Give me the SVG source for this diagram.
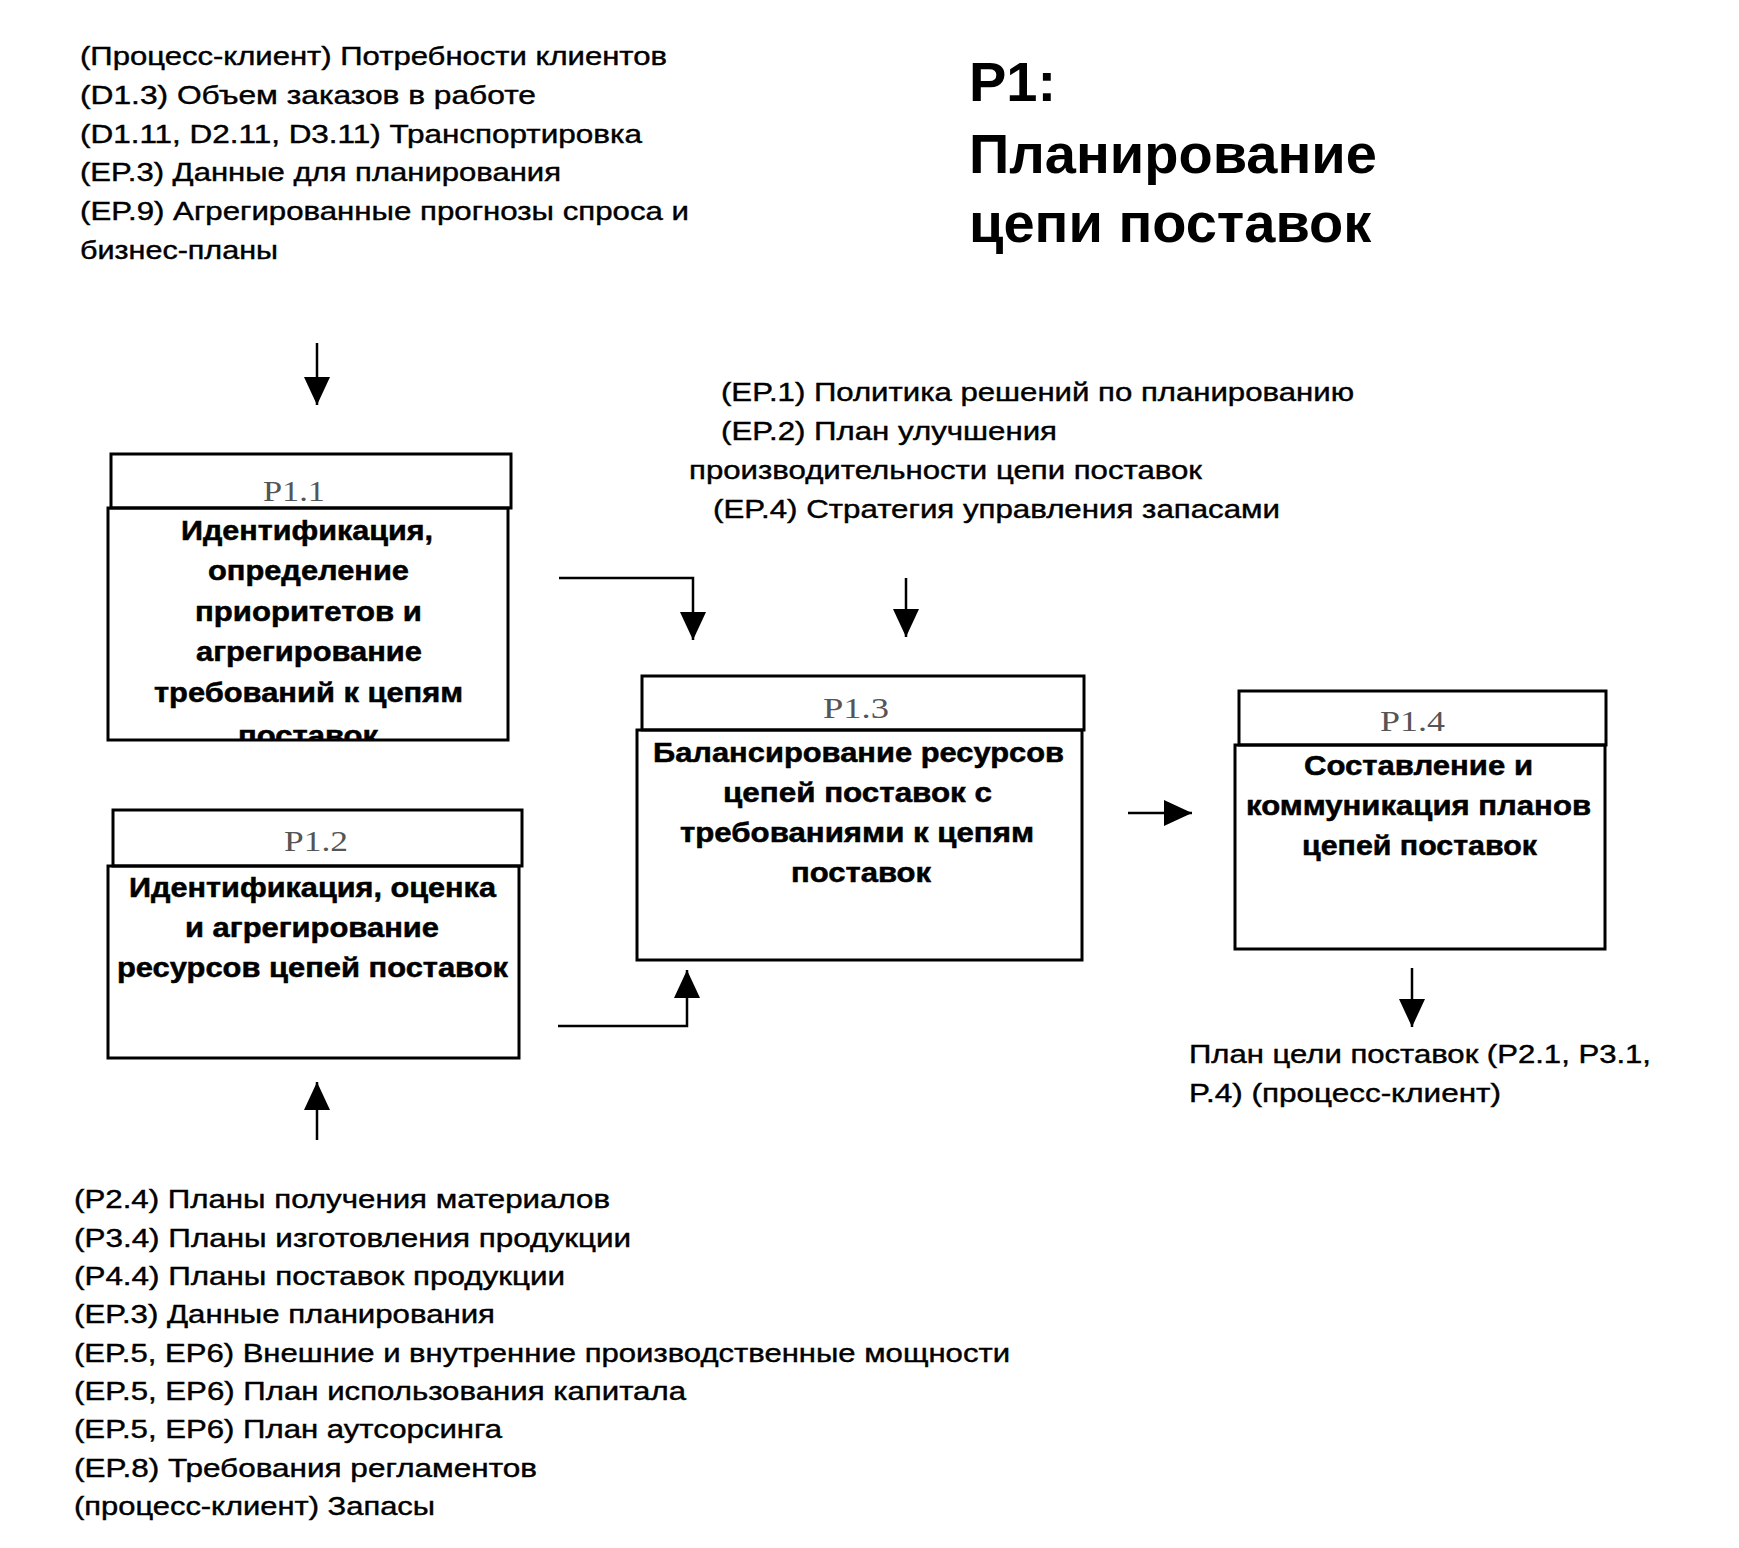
<svg xmlns="http://www.w3.org/2000/svg" width="1739" height="1548" viewBox="0 0 1739 1548">
<style>
.t{font-family:"Liberation Sans",Arial,sans-serif;font-size:25px;fill:#000;stroke:#000;stroke-width:0.4}
.b{font-family:"Liberation Sans",Arial,sans-serif;font-size:27px;font-weight:bold;fill:#000;stroke:#000;stroke-width:0.5}
.ttl{font-family:"Liberation Sans",Arial,sans-serif;font-size:56px;font-weight:bold;fill:#000}
.lbl{font-family:"Liberation Serif","Times New Roman",serif;font-size:30px;fill:#555}
.box{fill:none;stroke:#000;stroke-width:3}
.conn{fill:none;stroke:#000;stroke-width:2.5}
</style>
<defs>
<marker id="arr" viewBox="0 0 28 28" refX="28" refY="14" markerWidth="28" markerHeight="28" markerUnits="userSpaceOnUse" orient="auto">
<path d="M0,1 L28,14 L0,27 z" fill="#000"/>
</marker>
<clipPath id="clip11"><rect x="108" y="508" width="400" height="232"/></clipPath>
</defs>
<rect width="1739" height="1548" fill="#fff"/>

<g id="title">
<text class="ttl" x="969" y="101">P1:</text>
<text class="ttl" x="969" y="173">Планирование</text>
<text class="ttl" x="969" y="242">цепи поставок</text>
</g>

<g id="inputs-top">
<text class="t" x="80" y="65" textLength="587" lengthAdjust="spacingAndGlyphs">(Процесс-клиент) Потребности клиентов</text>
<text class="t" x="80" y="104" textLength="456" lengthAdjust="spacingAndGlyphs">(D1.3)  Объем заказов в работе</text>
<text class="t" x="80" y="143" textLength="562" lengthAdjust="spacingAndGlyphs">(D1.11, D2.11, D3.11) Транспортировка</text>
<text class="t" x="80" y="181" textLength="481" lengthAdjust="spacingAndGlyphs">(EP.3) Данные для планирования</text>
<text class="t" x="80" y="220" textLength="609" lengthAdjust="spacingAndGlyphs">(EP.9) Агрегированные прогнозы спроса и</text>
<text class="t" x="80" y="259" textLength="198" lengthAdjust="spacingAndGlyphs">бизнес-планы</text>
</g>

<g id="inputs-ep">
<text class="t" x="721" y="401" textLength="633" lengthAdjust="spacingAndGlyphs">(EP.1) Политика решений по планированию</text>
<text class="t" x="721" y="440" textLength="336" lengthAdjust="spacingAndGlyphs">(EP.2) План улучшения</text>
<text class="t" x="689" y="479" textLength="513" lengthAdjust="spacingAndGlyphs">производительности цепи поставок</text>
<text class="t" x="713" y="518" textLength="567" lengthAdjust="spacingAndGlyphs">(EP.4) Стратегия управления запасами</text>
</g>

<g id="p1-1">
<rect class="box" x="111" y="454" width="400" height="54"/>
<rect class="box" x="108" y="508" width="400" height="232"/>
<text class="lbl" x="263" y="501" textLength="62" lengthAdjust="spacingAndGlyphs">P1.1</text>
<text class="b" x="181" y="540" textLength="252" lengthAdjust="spacingAndGlyphs">Идентификация,</text>
<text class="b" x="208" y="580" textLength="201" lengthAdjust="spacingAndGlyphs">определение</text>
<text class="b" x="195" y="621" textLength="227" lengthAdjust="spacingAndGlyphs">приоритетов и</text>
<text class="b" x="196" y="661" textLength="226" lengthAdjust="spacingAndGlyphs">агрегирование</text>
<text class="b" x="154" y="702" textLength="309" lengthAdjust="spacingAndGlyphs">требований к цепям</text>
<text class="b" x="238" y="745" textLength="140" lengthAdjust="spacingAndGlyphs" clip-path="url(#clip11)">поставок</text>
</g>

<g id="p1-2">
<rect class="box" x="113" y="810" width="409" height="56"/>
<rect class="box" x="108" y="866" width="411" height="192"/>
<text class="lbl" x="284" y="851" textLength="64" lengthAdjust="spacingAndGlyphs">P1.2</text>
<text class="b" x="129" y="897" textLength="367" lengthAdjust="spacingAndGlyphs">Идентификация, оценка</text>
<text class="b" x="185" y="937" textLength="254" lengthAdjust="spacingAndGlyphs">и агрегирование</text>
<text class="b" x="117" y="977" textLength="391" lengthAdjust="spacingAndGlyphs">ресурсов цепей поставок</text>
</g>

<g id="p1-3">
<rect class="box" x="642" y="676" width="442" height="54"/>
<rect class="box" x="637" y="730" width="445" height="230"/>
<text class="lbl" x="823" y="718" textLength="66" lengthAdjust="spacingAndGlyphs">P1.3</text>
<text class="b" x="653" y="762" textLength="411" lengthAdjust="spacingAndGlyphs">Балансирование ресурсов</text>
<text class="b" x="723" y="802" textLength="269" lengthAdjust="spacingAndGlyphs">цепей поставок с</text>
<text class="b" x="680" y="842" textLength="354" lengthAdjust="spacingAndGlyphs">требованиями к цепям</text>
<text class="b" x="791" y="882" textLength="140" lengthAdjust="spacingAndGlyphs">поставок</text>
</g>

<g id="p1-4">
<rect class="box" x="1239" y="691" width="367" height="54"/>
<rect class="box" x="1235" y="745" width="370" height="204"/>
<text class="lbl" x="1380" y="731" textLength="65" lengthAdjust="spacingAndGlyphs">P1.4</text>
<text class="b" x="1304" y="775" textLength="229" lengthAdjust="spacingAndGlyphs">Составление и</text>
<text class="b" x="1246" y="815" textLength="345" lengthAdjust="spacingAndGlyphs">коммуникация планов</text>
<text class="b" x="1302" y="855" textLength="235" lengthAdjust="spacingAndGlyphs">цепей поставок</text>
</g>

<g id="output">
<text class="t" x="1189" y="1063" textLength="462" lengthAdjust="spacingAndGlyphs">План цели поставок (P2.1, P3.1,</text>
<text class="t" x="1189" y="1102" textLength="312" lengthAdjust="spacingAndGlyphs">P.4) (процесс-клиент)</text>
</g>

<g id="inputs-bottom">
<text class="t" x="74" y="1208" textLength="536" lengthAdjust="spacingAndGlyphs">(P2.4)  Планы получения материалов</text>
<text class="t" x="74" y="1247" textLength="557" lengthAdjust="spacingAndGlyphs">(P3.4)  Планы изготовления продукции</text>
<text class="t" x="74" y="1285" textLength="491" lengthAdjust="spacingAndGlyphs">(P4.4)  Планы поставок продукции</text>
<text class="t" x="74" y="1323" textLength="421" lengthAdjust="spacingAndGlyphs">(EP.3) Данные планирования</text>
<text class="t" x="74" y="1362" textLength="936" lengthAdjust="spacingAndGlyphs">(EP.5, EP6) Внешние и внутренние производственные мощности</text>
<text class="t" x="74" y="1400" textLength="612" lengthAdjust="spacingAndGlyphs">(EP.5, EP6) План использования капитала</text>
<text class="t" x="74" y="1438" textLength="428" lengthAdjust="spacingAndGlyphs">(EP.5, EP6) План аутсорсинга</text>
<text class="t" x="74" y="1477" textLength="463" lengthAdjust="spacingAndGlyphs">(EP.8) Требования регламентов</text>
<text class="t" x="74" y="1515" textLength="361" lengthAdjust="spacingAndGlyphs">(процесс-клиент) Запасы</text>
</g>

<g id="connectors">
<path class="conn" d="M317,343 V405" marker-end="url(#arr)"/>
<path class="conn" d="M559,578 H693 V640" marker-end="url(#arr)"/>
<path class="conn" d="M906,578 V637" marker-end="url(#arr)"/>
<path class="conn" d="M558,1026 H687 V970" marker-end="url(#arr)"/>
<path class="conn" d="M317,1140 V1082" marker-end="url(#arr)"/>
<path class="conn" d="M1128,813 H1192" marker-end="url(#arr)"/>
<path class="conn" d="M1412,968 V1027" marker-end="url(#arr)"/>
</g>
</svg>
